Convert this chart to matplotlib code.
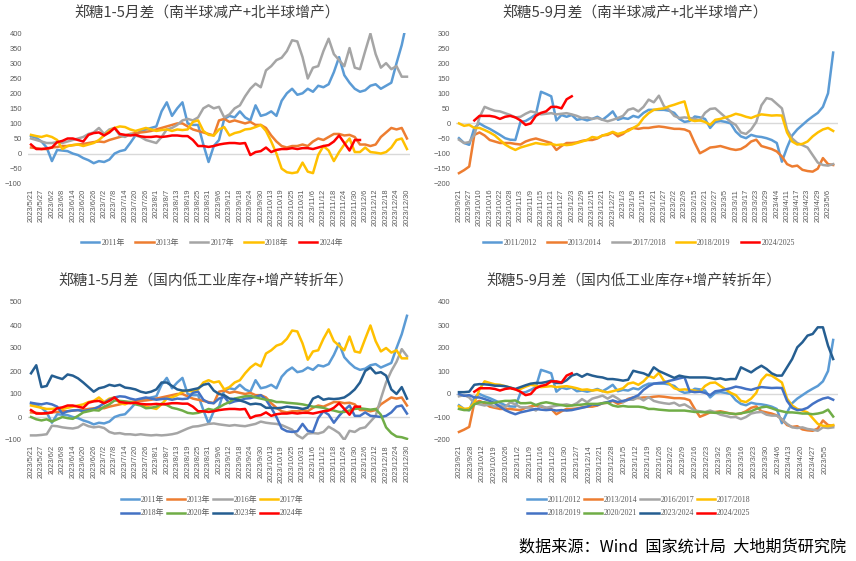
import numpy as np
import matplotlib.pyplot as plt

plt.rcParams['font.family'] = ['Liberation Sans', 'Noto Sans CJK SC']

# x tick labels (category axes)
left_dates = ['2023/5/21', '2023/5/27', '2023/6/2', '2023/6/8', '2023/6/14', '2023/6/20',
              '2023/6/26', '2023/7/2', '2023/7/8', '2023/7/14', '2023/7/20', '2023/7/26',
              '2023/8/1', '2023/8/7', '2023/8/13', '2023/8/19', '2023/8/25', '2023/8/31',
              '2023/9/6', '2023/9/12', '2023/9/18', '2023/9/24', '2023/9/30', '2023/10/13',
              '2023/10/19', '2023/10/25', '2023/10/31', '2023/11/6', '2023/11/12', '2023/11/18',
              '2023/11/24', '2023/11/30', '2023/12/6', '2023/12/12', '2023/12/18', '2023/12/24',
              '2023/12/30']
right_dates_top = ['2023/9/21', '2023/9/27', '2023/10/10', '2023/10/16', '2023/10/22', '2023/10/28',
                   '2023/11/3', '2023/11/9', '2023/11/15', '2023/11/21', '2023/11/27', '2023/12/3',
                   '2023/12/9', '2023/12/15', '2023/12/21', '2023/12/27', '2023/1/3', '2023/1/9',
                   '2023/1/15', '2023/1/21', '2023/1/27', '2023/2/2', '2023/2/9', '2023/2/15',
                   '2023/2/21', '2023/2/27', '2023/3/5', '2023/3/11', '2023/3/17', '2023/3/23',
                   '2023/3/29', '2023/4/4', '2023/4/11', '2023/4/17', '2023/4/23', '2023/4/29',
                   '2023/5/6']
right_dates_bottom = ['2023/9/21', '2023/9/28', '2023/10/12', '2023/10/19', '2023/10/26', '2023/11/2',
                      '2023/11/9', '2023/11/16', '2023/11/23', '2023/11/30', '2023/12/7', '2023/12/14',
                      '2023/12/21', '2023/12/28', '2023/1/5', '2023/1/12', '2023/1/19', '2023/1/26',
                      '2023/2/2', '2023/2/9', '2023/2/16', '2023/2/23', '2023/3/2', '2023/3/9',
                      '2023/3/16', '2023/3/23', '2023/3/30', '2023/4/6', '2023/4/13', '2023/4/20',
                      '2023/4/27', '2023/5/5']

# 1-5 spread, by year (half-tick steps)
y2011 = [58, 52, 40, 20, -25, 12, 10, 8, 0, -5,
         -15, -22, -32, -25, -28, -20, 0, 8, 12, 35,
         60, 75, 80, 85, 90, 140, 170, 125, 150, 170,
         100, 95, 95, 30, -28, 25, 45, 115, 125, 120,
         140, 120, 110, 160, 125, 130, 140, 125, 175, 200,
         215, 195, 200, 215, 205, 225, 220, 230, 270, 320,
         260, 235, 215, 205, 210, 225, 230, 215, 225, 235,
         300, 360, 440]
y2013 = [20, 18, 15, 15, 20, 22, 25, 25, 28, 30,
         32, 35, 38, 40, 38, 45, 50, 55, 60, 65,
         68, 70, 72, 75, 80, 85, 90, 95, 100, 100,
         90, 80, 75, 70, 65, 60, 110, 115, 105, 110,
         105, 100, 105, 95, 95, 85, 60, 40, 25, 20,
         25, 25, 30, 25, 40, 50, 45, 55, 65, 65,
         60, 62, 55, 30, 30, 25, 30, 55, 70, 85,
         80, 85, 50]
y2016 = [-80, -80, -78, -75, -38, -40, -45, -48, -50, -45,
         -30, -40, -45, -42, -48, -65, -72, -70, -75, -75,
         -78, -75, -78, -80, -78, -80, -78, -75, -70, -60,
         -50, -42, -40, -35, -30, -28, -32, -35, -38, -35,
         -38, -40, -35, -30, -20, -25, -28, -30, -35, -45,
         -55, -80, -93, -72, -70, -72, -65, -42, -55, -70,
         -100, -60, -65, -50, -45, -20, 5, 80, 150, 200,
         240, 295, 265]
y2017 = [50, 45, 40, 35, 35, 38, 35, 40, 45, 50,
         55, 65, 70, 85, 65, 80, 85, 60, 55, 65,
         60, 55, 45, 40, 35, 55, 80, 85, 95, 110,
         115, 110, 120, 150, 160, 150, 155, 120, 130, 150,
         160, 190, 215, 232, 220, 276, 290, 310, 318, 340,
         376, 372, 320, 249, 285, 290, 340, 381, 330, 310,
         290, 350, 285, 280, 340, 398, 330, 285, 300, 280,
         290, 255, 255]
y2018 = [62, 58, 55, 60, 55, 45, 15, 25, 28, 30,
         25, 30, 35, 45, 60, 75, 85, 90, 88, 80,
         75, 80, 85, 80, 75, 78, 80, 75, 80, 78,
         80, 105, 110, 75, 62, 60, 80, 88, 60, 68,
         72, 80, 82, 88, 95, 75, 40, 0, -50, -62,
         -65, -62, -30, -60, -65, -5, 25, 10, -25, 5,
         30, 50, 5, 5, 20, 5, 3, 0, 5, 20,
         45, 50, 15]
y2020 = [0, -10, -15, -10, -20, -10, 0, -5, -8, 5,
         20, 25, 30, 28, 45, 55, 72, 70, 68, 65,
         55, 50, 38, 40, 45, 58, 52, 40, 35, 28,
         18, 15, 18, 25, 35, 30, 42, 55, 65, 80,
         85, 90, 92, 85, 80, 75, 72, 65, 65, 62,
         60, 58, 55, 50, 45, 43, 40, 32, 28, 22,
         22, 28, 35, 38, 35, 32, 35, 10, -45, -70,
         -85, -88, -95]
y2023 = [190, 225, 130, 135, 180, 172, 165, 185, 180, 168,
         150, 130, 110, 125, 130, 140, 135, 140, 128, 125,
         120, 110, 105, 110, 120, 150, 150, 135, 120, 115,
         115, 120, 125, 140, 145, 115, 100, 95, 80, 78,
         72, 65, 55, 58, 55, 40, 40, 38, 40, 45,
         42, 40, 35, 40, 80, 90, 75, 80, 78, 80,
         85, 100, 120, 150, 200, 215, 190, 195, 180, 120,
         100, 130, 80]
y2024 = [30, 15, 15, 17, 20, 38, 42, 50, 50, 45,
         40, 62, 68, 70, 60, 70, 85, 65, 62, 60,
         62, 57, 55, 55, 57, 55, 57, 60, 60, 58,
         58, 45, 25, 25, 22, 25, 30, 33, 35, 35,
         33, 35, -5, 5, 8, 20, 5, 12, 15, 15,
         18, 15, 18, 18, 15, 20, 25, 28, 40, 60,
         35, 10, 45, 45]

# 5-9 spread, by season (half-tick steps)
s1112 = [-49, -65, -71, -15, 0, -10, -18, -28, -38, -49,
         -54, -55, 5, 8, 18, 30, 105, 98, 90, 10,
         28, 22, 28, 12, 15, 10, 15, 22, 12, 25,
         40, 12, 18, 15, 25, 20, 35, 45, 45, 45,
         45, 42, 35, 15, 5, 8, 23, 20, 15, -15,
         5, 8, 5, 0, -27, -43, -49, -38, -43, -45,
         -49, -55, -65, -127, -80, -40, -20, -5, 10, 23,
         35, 55, 100, 235]
s1314 = [-165, -155, -143, -38, -30, -40, -55, -60, -65, -65,
         -65, -68, -70, -60, -54, -50, -55, -60, -65, -88,
         -75, -65, -65, -63, -58, -55, -55, -50, -40, -38,
         -30, -43, -35, -21, -15, -18, -15, -15, -12, -10,
         -12, -15, -18, -18, -20, -27, -65, -99, -90, -80,
         -78, -75, -80, -85, -88, -85, -75, -60, -54, -75,
         -80, -85, -93, -110, -135, -143, -140, -154, -158, -160,
         -150, -115, -135, -138]
s1617 = [-10, -5, -15, -40, -45, -50, -45, -55, -50, -58,
         -36, -45, -58, -58, -60, -72, -51, -60, -55, -51,
         -48, -45, -50, -40, -22, -36, -20, -14, -7, -20,
         -7, -20, -36, -25, -25, -14, -28, -14, -30, -36,
         -40, -43, -38, -51, -45, -58, -72, -75, -78, -72,
         -80, -90, -95, -101, -100, -109, -100, -85, -80, -78,
         -90, -94, -94, -110, -130, -145, -148, -145, -152, -155,
         -160, -145, -148, -145]
s1718 = [-54, -65, -62, -38, 20, 55, 48, 42, 40, 34,
         28, 20, 22, 32, 40, 36, 30, 32, 34, 30,
         32, 34, 30, 25, 18, 20, 15, 18, 12, 7,
         12, 18, 25, 45, 50, 40, 55, 79, 70, 92,
         57, 45, 25, 18, 20, 18, 15, 10, 35, 48,
         50, 35, 20, 5, -5, -30, -35, -20, 5, 60,
         84, 80, 65, 50, -20, -50, -65, -72, -80, -105,
         -130, -138, -140, -135]
s1819 = [0, -8, -5, -15, -15, -22, -30, -40, -55, -70,
         -80, -88, -80, -75, -70, -65, -68, -70, -68, -72,
         -70, -72, -70, -65, -60, -55, -45, -48, -40, -35,
         -28, -35, -30, -25, -15, -5, 18, 34, 45, 48,
         50, 57, 62, 68, 73, 12, 8, 10, 5, -5,
         12, 15, 20, 25, 32, 28, 22, 18, 25, 30,
         28, 26, 27, 26, -30, -60, -70, -68, -60, -43,
         -30, -20, -15, -25]
s2021 = [-65, -70, -70, -45, -36, -36, -40, -38, -33, -30,
         -30, -28, -40, -40, -38, -48, -40, -36, -40, -45,
         -48, -52, -50, -48, -46, -43, -43, -43, -40, -38,
         -50, -55, -52, -55, -55, -55, -58, -65, -65, -68,
         -70, -72, -72, -72, -72, -75, -78, -78, -80, -80,
         -82, -80, -82, -85, -87, -84, -80, -75, -65, -58,
         -55, -62, -70, -75, -80, -80, -82, -85, -85, -88,
         -85, -80, -68, -98]
s2324 = [8, 8, 10, 40, 43, 42, 40, 36, 36, 34,
         28, 22, 30, 38, 45, 48, 48, 52, 58, 48,
         48, 60, 80, 87, 75, 87, 80, 75, 72, 65,
         65, 62, 58, 62, 101, 95, 90, 80, 116, 100,
         90, 80, 70, 80, 75, 72, 72, 72, 72, 70,
         65, 68, 62, 65, 65, 116, 105, 94, 110, 123,
         109, 90, 80, 80, 116, 152, 203, 225, 254, 261,
         290, 290, 210, 152]
s2425 = [10, 25, 25, 25, 22, 15, 22, 25, 20, 10,
         -5, 0, 25, 35, 40, 55, 55, 50, 80, 90]
s2425_start = 3

BLUE_L = '#5B9BD5'
ORANGE = '#ED7D31'
GRAY = '#A5A5A5'
GOLD = '#FFC000'
RED = '#FF0000'
BLUE = '#4472C4'
GREEN = '#70AD47'
NAVY = '#255E91'
TXT = '#595959'

W, H = 856, 561
fig = plt.figure(figsize=(W / 100, H / 100), dpi=100, facecolor='white')


def add_ax(left, top, right, bottom):
    return fig.add_axes([left / W, 1 - bottom / H, (right - left) / W, (bottom - top) / H])


def style(ax, ylo, yhi, ystep, xlim, tick_pos, tick_labels):
    ax.set_xlim(*xlim)
    ax.set_ylim(ylo, yhi)
    ax.set_yticks(np.arange(ylo, yhi + 1, ystep))
    ax.set_xticks(tick_pos)
    ax.set_xticklabels(tick_labels, rotation=90)
    for sp in ax.spines.values():
        sp.set_visible(False)
    ax.axhline(0, color='#D9D9D9', lw=1.0, zorder=0)
    ax.tick_params(length=0, labelsize=5.4, colors=TXT)
    ax.tick_params(axis='x', pad=3.6)
    ax.tick_params(axis='y', pad=4.3)


def draw(ax, vals, color, label, start=0):
    x = np.arange(len(vals)) + start
    line, = ax.plot(x, vals, color=color, lw=1.8, label=label, solid_joinstyle='round')
    return line


leg_font = {'family': ['Liberation Serif', 'Noto Sans CJK SC'], 'size': 5.7}

# top-left
ax1 = add_ax(27.9, 33, 410.1, 183.7)
style(ax1, -100, 400, 50, (-0.6, 72.6), np.arange(0, 73, 2), left_dates)
h = [draw(ax1, y2011, BLUE_L, '2011年'), draw(ax1, y2013, ORANGE, '2013年'),
     draw(ax1, y2017, GRAY, '2017年'), draw(ax1, y2018, GOLD, '2018年'),
     draw(ax1, y2024, RED, '2024年')]
leg = fig.legend(handles=h, loc='center', bbox_to_anchor=(212 / W, 1 - 243 / H), ncol=5,
                 frameon=False, prop=leg_font, handlelength=2.3, handletextpad=0.3,
                 columnspacing=1.3)
for t in leg.get_texts():
    t.set_color(TXT)

# top-right
ax2 = add_ax(456.4, 33, 838.3, 183.7)
style(ax2, -200, 300, 50, (-0.5, 74), np.arange(0, 73, 2), right_dates_top)
h = [draw(ax2, s1112, BLUE_L, '2011/2012'), draw(ax2, s1314, ORANGE, '2013/2014'),
     draw(ax2, s1718, GRAY, '2017/2018'), draw(ax2, s1819, GOLD, '2018/2019'),
     draw(ax2, s2425, RED, '2024/2025', s2425_start)]
leg = fig.legend(handles=h, loc='center', bbox_to_anchor=(639 / W, 1 - 243 / H), ncol=5,
                 frameon=False, prop=leg_font, handlelength=2.3, handletextpad=0.3,
                 columnspacing=1.3)
for t in leg.get_texts():
    t.set_color(TXT)

# bottom-left
ax3 = add_ax(27.9, 302, 410.1, 440)
style(ax3, -100, 500, 100, (-0.6, 72.6), np.arange(0, 73, 2), left_dates)
l11 = draw(ax3, y2011, BLUE_L, '2011年')
l13 = draw(ax3, y2013, ORANGE, '2013年')
l16 = draw(ax3, y2016, GRAY, '2016年')
l17 = draw(ax3, y2017, GOLD, '2017年')
l18 = draw(ax3, y2018, BLUE, '2018年')
l20 = draw(ax3, y2020, GREEN, '2020年')
l23 = draw(ax3, y2023, NAVY, '2023年')
l24 = draw(ax3, y2024, RED, '2024年')
h = [l11, l18, l13, l20, l16, l23, l17, l24]
leg = fig.legend(handles=h, loc='center', bbox_to_anchor=(212 / W, 1 - 506.5 / H), ncol=4,
                 frameon=False, prop=leg_font, handlelength=2.3, handletextpad=0.2,
                 columnspacing=0.4, labelspacing=0.75)
for t in leg.get_texts():
    t.set_color(TXT)

# bottom-right
ax4 = add_ax(456.4, 302, 838.3, 440)
style(ax4, -200, 400, 100, (-0.5, 74), np.linspace(0, 71.4, len(right_dates_bottom)),
      right_dates_bottom)
r1 = draw(ax4, s1112, BLUE_L, '2011/2012')
r2 = draw(ax4, s1314, ORANGE, '2013/2014')
r3 = draw(ax4, s1617, GRAY, '2016/2017')
r4 = draw(ax4, s1718, GOLD, '2017/2018')
r5 = draw(ax4, s1819, BLUE, '2018/2019')
r6 = draw(ax4, s2021, GREEN, '2020/2021')
r7 = draw(ax4, s2324, NAVY, '2023/2024')
r8 = draw(ax4, s2425, RED, '2024/2025', s2425_start)
h = [r1, r5, r2, r6, r3, r7, r4, r8]
leg = fig.legend(handles=h, loc='center', bbox_to_anchor=(639 / W, 1 - 506.5 / H), ncol=4,
                 frameon=False, prop=leg_font, handlelength=2.3, handletextpad=0.2,
                 columnspacing=0.4, labelspacing=0.75)
for t in leg.get_texts():
    t.set_color(TXT)

# titles
title_kw = dict(ha='center', va='center', fontsize=10.6, color='#404040', family='Noto Sans CJK SC')
fig.text(207 / W, 1 - 13.5 / H, '郑糖1-5月差（南半球减产+北半球增产）', **title_kw)
fig.text(635 / W, 1 - 13.5 / H, '郑糖5-9月差（南半球减产+北半球增产）', **title_kw)
fig.text(206 / W, 1 - 281 / H, '郑糖1-5月差（国内低工业库存+增产转折年）', **title_kw)
fig.text(634 / W, 1 - 281 / H, '郑糖5-9月差（国内低工业库存+增产转折年）', **title_kw)

fig.text(846 / W, 1 - 547 / H, '数据来源：Wind  国家统计局  大地期货研究院', ha='right', va='center',
         fontsize=11.6, color='black', family=['Noto Sans CJK SC', 'DejaVu Sans'])

fig.savefig('out.png', dpi=100, facecolor='white')
